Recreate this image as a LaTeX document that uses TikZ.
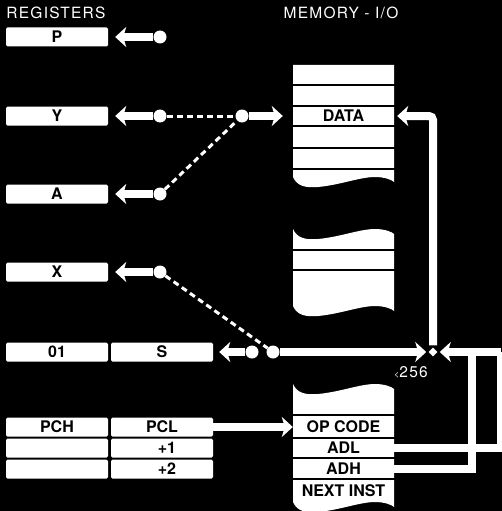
\documentclass[tikz,border=0pt]{standalone}
\usepackage{fontspec}
\setmainfont{TeX Gyre Heros}
\newfontfamily\spacedfont[LetterSpace=8]{TeX Gyre Heros}
\usetikzlibrary{arrows.meta,shapes.geometric}

% torn edge of a memory block, left to right and right to left
\newcommand{\wavelr}[1]{(293,#1) .. controls (297,#1+9) and (305,#1+11) .. (318,#1+10) .. controls (340,#1+8) and (360,#1) .. (375,#1) .. controls (385,#1) and (392,#1+3) .. (394,#1+5)}
\newcommand{\waverl}[1]{(394,#1+5) .. controls (392,#1+3) and (385,#1) .. (375,#1) .. controls (360,#1) and (340,#1+8) .. (318,#1+10) .. controls (305,#1+11) and (297,#1+9) .. (293,#1)}

\tikzset{
  regbox/.style={fill=white, rounded corners=1.5pt, minimum width=102pt, minimum height=19pt,
    inner sep=0pt, font=\fontsize{16}{16}\selectfont\bfseries},
  memrow/.style={minimum width=101pt, minimum height=19pt, inner sep=0pt,
    font=\fontsize{16}{16}\selectfont\bfseries},
  ball/.style={circle, fill=white, minimum size=13pt, inner sep=0pt},
  bus/.style={white, line width=8pt},
  arr/.style={-{Stealth[length=11pt,width=20pt,inset=3pt]}},
  linkdash/.style={white, line width=3pt, dash pattern=on 6pt off 4pt},
  sep/.style={black, line width=2pt},
  title/.style={white, font=\spacedfont\fontsize{15.5}{15.5}\selectfont},
}

\begin{document}
\begin{tikzpicture}[x=1pt, y=-1pt]

  \fill[black] (0,0) rectangle (502,511);
  \useasboundingbox (0,0) rectangle (502,511);
  \clip (0,0) rectangle (502,511);

  % ---- titles ----
  \node[title] (regtitle) at (56,13) {REGISTERS};
  \node[title] (memtitle) at (341,13) {MEMORY - I/O};

  % ---- registers ----
  \node[regbox] (P) at (57,37) {P};
  \node[regbox] (Y) at (57,116) {Y};
  \node[regbox] (A) at (57,194) {A};
  \node[regbox] (X) at (57,272) {X};
  \node[regbox] (stackhi) at (57,352) {01};
  \node[regbox] (S) at (162,352) {S};
  \node[regbox] (PCH) at (57,427) {PCH};
  \node[regbox] (PCL) at (162,427) {PCL};
  \node[regbox] (pchone) at (57,448) {};
  \node[regbox] (pclone) at (162,448) {\hspace{10pt}+1};
  \node[regbox] (pchtwo) at (57,469) {};
  \node[regbox] (pcltwo) at (162,469) {\hspace{10pt}+2};

  % ---- memory blocks ----
  \fill[white] (293,65) -- (394,65) -- \waverl{177} -- cycle;
  \fill[white] \wavelr{229} -- \waverl{306} -- cycle;
  \fill[white] \wavelr{384} -- \waverl{502} -- cycle;
  \foreach \y in {85,106,126,148,169,250,270,415,437.5,458,479} {
    \draw[sep] (292,\y) -- (395,\y);
  }
  \node[memrow] (data) at (343.5,116) {DATA};
  \node[memrow] (opcode) at (343.5,426.5) {OP CODE};
  \node[memrow] (adl) at (343.5,448) {ADL};
  \node[memrow] (adh) at (343.5,468.5) {ADH};
  \node[memrow] (nextinst) at (343.5,491) {NEXT INST};

  % ---- pick-off points ----
  \node[ball] (pb) at (160,37) {};
  \node[ball] (yb) at (160,116) {};
  \node[ball] (yb2) at (242,116) {};
  \node[ball] (ab) at (160,194) {};
  \node[ball] (xb) at (160,272) {};
  \node[ball] (sb) at (252,352) {};
  \node[ball] (sb2) at (273,352) {};
  \node[diamond, fill=white, draw=black, line width=1.5pt, minimum size=12pt,
    inner sep=0pt] (jn) at (433,352) {};
  \coordinate (rt) at (501,352);
  \coordinate (ah) at (472,352);

  % ---- dashed links ----
  \draw[linkdash] (yb) -- (yb2);
  \draw[linkdash] (ab) -- (yb2);
  \draw[linkdash] (xb) -- (sb2);

  % ---- buses ----
  \draw[bus, arr, shorten >=7pt] (pb) -- (P);
  \draw[bus, arr, shorten >=7pt] (yb) -- (Y);
  \draw[bus, arr, shorten >=7pt] (ab) -- (A);
  \draw[bus, arr, shorten >=7pt] (xb) -- (X);
  \draw[bus, arr, shorten >=6pt] (sb) -- (S);
  \draw[bus, arr, shorten >=10pt] (yb2) -- (data);
  \draw[bus, arr] (sb2) -- (jn);
  \draw[bus] (adl.east) -| (rt);
  \draw[bus] (adh.east) -| (ah);
  \draw[bus, arr] (rt) -- (jn);
  \draw[bus, arr, rounded corners=4pt, shorten >=3pt] (jn.north) |- (data.east);
  \draw[bus, arr] (PCL.east) -- (PCL.east -| opcode.west);

  \node[title] (pagelim) at (411,372) {{\fontsize{9}{9}\selectfont<}256};

\end{tikzpicture}
\end{document}
